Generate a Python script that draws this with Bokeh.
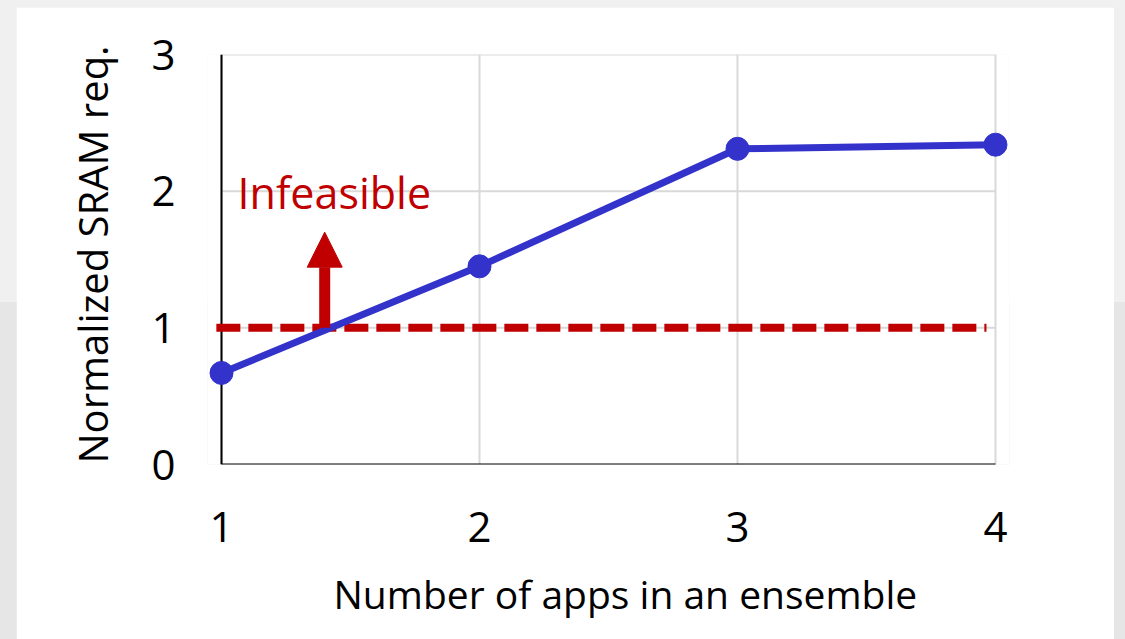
from bokeh.plotting import figure
from bokeh.models import Range1d, FixedTicker, Arrow, NormalHead, ColumnDataSource, Title
from bokeh.core.properties import value
from bokeh.embed import file_html
from bokeh.resources import INLINE

# Data
apps = [1, 2, 3, 4]
sram_req = [0.67, 1.45, 2.31, 2.34]
x_ticks = [1, 2, 3, 4]
y_ticks = [0, 1, 2, 3]
limit = 1.0
limit_span = [0.98, 3.965]
arrow_x = 1.40
arrow_top = 1.70
note_text = ["Infeasible"]
note_x = [1.062]
note_y = [1.987]
x_title = "Number of apps in an ensemble"
y_title = "Normalized SRAM req."

FONT = "Open Sans"
RED = "#c00000"
BLUE = "#3333cc"
GRID = "#d9d9d9"

# a little padding on x so the end markers are not cut by the frame
PAD = 0.0543
x_lo, x_hi = x_ticks[0], x_ticks[-1]
y_lo, y_hi = y_ticks[0], y_ticks[-1]

p = figure(
    width=1098, height=632,
    x_range=Range1d(x_lo - PAD, x_hi + PAD), y_range=Range1d(y_lo, y_hi),
    output_backend="svg", toolbar_location=None,
    min_border_left=191, min_border_right=105,
    min_border_top=47, min_border_bottom=174,
    margin=(7, 0, 0, 16),
)
p.outline_line_color = None
p.background_fill_color = "white"
p.border_fill_color = "white"

# vertical grid from the library, horizontal grid only across the data span
p.xgrid.ticker = FixedTicker(ticks=x_ticks)
p.xgrid.grid_line_color = GRID
p.xgrid.grid_line_width = 2
p.ygrid.grid_line_color = None
hy = [t for t in y_ticks if t > y_lo]
p.segment(x0=[x_lo] * len(hy), x1=[x_hi] * len(hy), y0=hy, y1=hy,
          line_color=GRID, line_width=2)

# axes (lines drawn over the data span only)
p.xaxis.ticker = FixedTicker(ticks=x_ticks)
p.yaxis.ticker = FixedTicker(ticks=y_ticks)
for ax in (p.xaxis, p.yaxis):
    ax.axis_line_color = None
    ax.major_tick_line_color = None
    ax.minor_tick_line_color = None
    ax.major_tick_out = 0
    ax.major_tick_in = 0
    ax.major_label_text_font = FONT
    ax.major_label_text_font_size = "42px"
    ax.major_label_text_color = "black"
p.xaxis.major_label_standoff = 47
p.yaxis.major_label_standoff = 32

# axis titles
p.add_layout(Title(text=x_title, align="left", offset=126, standoff=40,
                   text_font=FONT, text_font_size="39px",
                   text_font_style="normal", text_color="black"), "below")
p.add_layout(Title(text=y_title, align="left", offset=1, standoff=58,
                   text_font=FONT, text_font_size="40px",
                   text_font_style="normal", text_color="black"), "left")

p.segment(x0=[x_lo, x_lo], x1=[x_hi, x_lo], y0=[y_lo, y_lo], y1=[y_lo, y_hi],
          line_color="black", line_width=2)

# feasibility limit
p.line(limit_span, [limit, limit], line_color=RED, line_width=8,
       line_dash="24 8", line_cap="butt")

# upward arrow into the infeasible region
p.add_layout(Arrow(
    end=NormalHead(size=35, fill_color=RED, line_color=RED, line_width=1),
    x_start=arrow_x, y_start=limit, x_end=arrow_x, y_end=arrow_top,
    line_color=RED, line_width=11,
))

src = ColumnDataSource(dict(x=note_x, y=note_y, t=note_text))
p.text(x="x", y="y", text="t", source=src, text_color=RED,
       text_font=value(FONT), text_font_size="43px",
       text_baseline="alphabetic", text_align="left")

# SRAM requirement series
p.line(apps, sram_req, line_color=BLUE, line_width=7)
p.scatter(apps, sram_req, size=23, fill_color=BLUE, line_color=BLUE)

html = file_html(p, INLINE)
html = html.replace(
    "</head>",
    "<style>html,body{margin:0;padding:0;min-height:100%;"
    "background:linear-gradient(to bottom,#f0f0f0 0,#f0f0f0 302px,#e6e6e6 302px);}"
    "</style></head>",
)
open("out.html", "w").write(html)
